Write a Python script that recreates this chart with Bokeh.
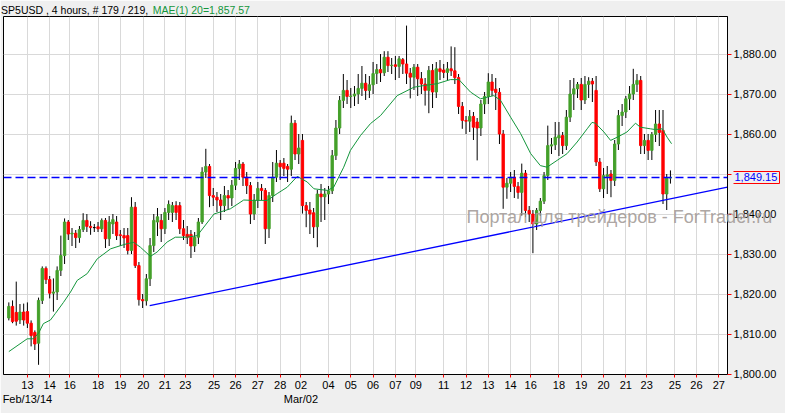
from bokeh.plotting import figure
from bokeh.models import (FixedTicker, NumeralTickFormatter, LinearAxis, Span, Range1d,
                          ColumnDataSource)
from bokeh.embed import file_html
from bokeh.resources import INLINE

# ---------------- data ----------------
opens = [
    1814.0, 1816.9, 1815.4, 1813.5, 1815.5, 1815.6, 1812.7, 1810.4, 1807.7, 1818.4,
    1826.4, 1823.6, 1820.2, 1820.5, 1825.9, 1829.6, 1838.0, 1835.0, 1835.2, 1834.1,
    1836.1, 1838.4, 1836.9, 1836.6, 1836.8, 1836.3, 1838.4, 1833.8, 1837.5, 1838.0,
    1834.8, 1834.6, 1834.6, 1830.9, 1841.7, 1827.1, 1818.6, 1818.3, 1823.8, 1832.1,
    1838.0, 1838.4, 1836.3, 1840.4, 1840.4, 1842.1, 1842.1, 1836.3, 1834.9, 1834.9,
    1832.0, 1834.2, 1838.0, 1850.5, 1851.9, 1844.6, 1844.2, 1843.5, 1842.1, 1844.6,
    1844.0, 1847.2, 1851.4, 1852.5, 1849.2, 1847.1, 1840.0, 1843.5, 1846.4, 1845.9,
    1836.3, 1844.6, 1849.2, 1852.7, 1852.7, 1851.9, 1851.2, 1862.7, 1855.0, 1858.4,
    1842.1, 1841.0, 1840.3, 1836.8, 1845.0, 1844.3, 1845.0, 1845.8, 1854.6, 1861.5,
    1868.4, 1870.9, 1869.4, 1869.5, 1870.0, 1871.4, 1872.7, 1870.9, 1872.3, 1875.1,
    1876.1, 1875.3, 1879.2, 1877.1, 1877.3, 1876.9, 1878.6, 1877.5, 1875.2, 1874.2,
    1876.7, 1873.8, 1872.5, 1870.9, 1875.9, 1870.5, 1876.3, 1876.0, 1875.4, 1876.3,
    1875.8, 1874.1, 1866.9, 1863.4, 1863.2, 1864.4, 1863.0, 1861.5, 1867.5, 1869.4,
    1873.0, 1871.2, 1870.4, 1860.0, 1846.7, 1847.7, 1849.2, 1846.9, 1845.4, 1850.2,
    1840.9, 1840.0, 1837.5, 1840.9, 1843.2, 1849.6, 1857.0, 1857.3, 1859.0, 1859.6,
    1857.1, 1864.2, 1870.0, 1871.3, 1872.4, 1868.5, 1872.4, 1873.2, 1870.9, 1853.0,
    1846.3, 1849.4, 1850.0, 1848.4, 1857.5, 1864.6, 1865.5, 1868.8, 1870.0, 1872.4,
    1873.4, 1857.1, 1858.4, 1855.9, 1859.9, 1862.5, 1860.9, 1845.0, 1849.0,
]
highs = [
    1817.9, 1818.4, 1823.1, 1817.5, 1817.6, 1817.9, 1813.4, 1810.9, 1819.1, 1826.9,
    1826.9, 1824.5, 1823.9, 1826.9, 1834.6, 1838.9, 1838.5, 1836.5, 1836.0, 1837.0,
    1840.2, 1840.0, 1838.2, 1837.5, 1838.0, 1838.9, 1839.0, 1839.5, 1840.0, 1839.5,
    1836.0, 1836.5, 1836.5, 1844.2, 1843.0, 1828.0, 1820.0, 1825.0, 1834.0, 1840.0,
    1841.5, 1840.0, 1841.5, 1843.4, 1843.0, 1843.2, 1843.0, 1838.5, 1837.0, 1836.0,
    1835.5, 1839.0, 1851.7, 1856.3, 1852.5, 1846.5, 1845.5, 1845.0, 1847.0, 1846.0,
    1848.5, 1853.0, 1853.5, 1853.0, 1850.5, 1848.0, 1845.0, 1848.0, 1847.5, 1846.5,
    1845.5, 1853.0, 1856.0, 1853.5, 1854.0, 1852.5, 1864.6, 1863.5, 1860.0, 1860.0,
    1843.0, 1843.0, 1841.5, 1846.0, 1847.5, 1846.5, 1847.0, 1856.0, 1863.5, 1869.5,
    1875.0, 1873.5, 1871.5, 1872.0, 1875.0, 1877.0, 1875.0, 1874.5, 1878.0, 1877.5,
    1880.0, 1880.7, 1880.7, 1879.0, 1879.5, 1879.5, 1879.0, 1887.1, 1876.5, 1877.5,
    1877.5, 1875.5, 1874.0, 1877.0, 1877.5, 1878.0, 1878.5, 1877.5, 1878.0, 1881.9,
    1881.7, 1875.0, 1868.0, 1864.5, 1866.0, 1865.5, 1864.0, 1868.5, 1870.5, 1875.2,
    1875.0, 1874.0, 1871.5, 1861.0, 1849.0, 1850.5, 1851.0, 1848.0, 1852.6, 1851.0,
    1842.0, 1841.0, 1841.5, 1844.0, 1850.5, 1862.1, 1859.0, 1863.0, 1863.0, 1860.5,
    1866.0, 1873.5, 1874.0, 1873.0, 1874.0, 1874.5, 1874.2, 1874.0, 1874.5, 1854.0,
    1851.5, 1852.0, 1851.0, 1858.5, 1866.0, 1867.5, 1869.5, 1872.0, 1876.3, 1875.0,
    1874.5, 1860.0, 1860.0, 1860.5, 1866.0, 1866.0, 1866.0, 1850.0, 1850.9,
]
lows = [
    1813.4, 1812.7, 1812.1, 1812.5, 1812.1, 1811.5, 1806.9, 1806.0, 1802.3, 1817.5,
    1822.5, 1818.9, 1815.6, 1818.5, 1824.5, 1827.5, 1833.5, 1832.0, 1831.5, 1832.8,
    1835.5, 1835.5, 1834.8, 1835.5, 1835.5, 1835.5, 1831.5, 1832.0, 1835.0, 1833.5,
    1832.0, 1831.5, 1829.9, 1830.0, 1826.5, 1817.1, 1816.5, 1817.1, 1822.0, 1830.5,
    1834.5, 1833.0, 1835.0, 1838.5, 1838.0, 1838.5, 1835.0, 1833.5, 1832.5, 1829.0,
    1830.5, 1832.5, 1837.5, 1849.0, 1841.7, 1842.0, 1840.5, 1838.5, 1840.5, 1841.0,
    1842.0, 1846.0, 1848.5, 1847.0, 1845.0, 1837.5, 1838.5, 1841.5, 1843.5, 1832.5,
    1834.0, 1843.0, 1848.0, 1848.5, 1849.5, 1848.0, 1849.5, 1853.5, 1852.5, 1840.1,
    1836.7, 1835.0, 1834.0, 1831.7, 1838.0, 1838.5, 1842.5, 1845.0, 1853.5, 1860.0,
    1866.5, 1867.5, 1866.5, 1867.0, 1867.5, 1869.5, 1868.5, 1869.0, 1870.0, 1872.5,
    1873.0, 1874.5, 1875.5, 1875.0, 1873.5, 1874.0, 1875.0, 1872.5, 1868.9, 1871.0,
    1869.5, 1870.0, 1867.1, 1865.2, 1866.5, 1869.0, 1873.5, 1874.0, 1873.5, 1874.5,
    1872.5, 1865.0, 1861.3, 1860.0, 1860.5, 1858.5, 1853.4, 1859.5, 1865.0, 1867.5,
    1869.5, 1866.0, 1857.5, 1841.3, 1843.8, 1845.5, 1844.0, 1843.8, 1839.6, 1839.2,
    1838.0, 1830.2, 1836.0, 1839.5, 1842.5, 1848.5, 1855.0, 1856.0, 1854.5, 1855.0,
    1856.0, 1863.0, 1866.0, 1869.0, 1866.0, 1867.5, 1869.0, 1868.0, 1852.0, 1845.5,
    1844.0, 1845.0, 1844.2, 1847.0, 1856.0, 1862.0, 1864.0, 1866.0, 1868.5, 1870.5,
    1855.0, 1855.0, 1853.5, 1853.5, 1858.0, 1857.0, 1842.5, 1841.0, 1847.6,
]
closes = [
    1816.9, 1813.1, 1813.2, 1815.5, 1813.5, 1812.7, 1809.6, 1807.5, 1818.4, 1826.4,
    1823.6, 1820.2, 1820.5, 1825.9, 1829.6, 1838.0, 1835.0, 1835.2, 1834.1, 1836.1,
    1838.4, 1836.9, 1836.6, 1836.6, 1836.3, 1838.4, 1833.8, 1838.0, 1838.6, 1834.6,
    1834.6, 1834.0, 1830.9, 1841.7, 1827.1, 1818.6, 1818.3, 1823.8, 1832.1, 1838.4,
    1839.3, 1836.3, 1840.4, 1842.4, 1842.1, 1840.4, 1836.3, 1834.6, 1834.2, 1832.0,
    1834.2, 1838.0, 1850.5, 1851.9, 1844.6, 1844.2, 1843.5, 1842.1, 1844.6, 1844.0,
    1847.2, 1851.4, 1852.5, 1849.2, 1847.1, 1840.0, 1843.5, 1846.4, 1845.9, 1836.3,
    1844.6, 1849.2, 1852.7, 1851.8, 1851.4, 1851.2, 1862.7, 1855.0, 1856.5, 1842.1,
    1840.9, 1840.0, 1836.8, 1845.0, 1844.3, 1845.0, 1845.8, 1854.6, 1861.5, 1868.4,
    1870.9, 1869.4, 1869.5, 1870.0, 1871.4, 1872.7, 1870.9, 1872.3, 1875.1, 1876.1,
    1875.3, 1879.2, 1877.1, 1877.2, 1876.9, 1878.8, 1877.5, 1875.2, 1874.2, 1876.7,
    1873.8, 1872.5, 1870.9, 1875.9, 1870.5, 1876.3, 1875.6, 1875.4, 1876.3, 1875.8,
    1874.1, 1866.9, 1863.4, 1863.2, 1864.4, 1861.7, 1861.5, 1867.5, 1869.4, 1873.0,
    1870.9, 1870.4, 1860.0, 1846.7, 1847.7, 1849.2, 1846.9, 1845.4, 1850.2, 1840.9,
    1840.0, 1837.5, 1840.9, 1843.2, 1849.6, 1857.1, 1857.3, 1859.2, 1859.6, 1857.1,
    1864.2, 1870.0, 1871.3, 1872.4, 1868.5, 1872.4, 1873.2, 1872.5, 1853.0, 1846.3,
    1849.6, 1849.8, 1848.4, 1857.5, 1864.6, 1865.5, 1868.8, 1870.0, 1872.4, 1873.4,
    1857.1, 1858.4, 1855.9, 1859.9, 1862.5, 1860.4, 1845.0, 1849.0, 1849.15,
]

# moving average (MA 20): bar position and value
ma_bar = [0, 4.95, 6.6, 8.0, 9.3, 11.2, 12.5, 14.7, 16.6, 18.4, 21.1, 23.8, 27.4, 30.1,
          31.9, 33.6, 35.4, 38.1, 39.9, 42.6, 44.8, 48.0, 50.7, 55.2, 59.6, 63.2, 65.5,
          69.5, 72.2, 74.9, 77.6, 80.3, 82.1, 85.7, 87.4, 90.1, 91.9, 94.6, 97.3, 100.0,
          104.5, 109.0, 111.6, 115.3, 118.8, 121.1, 124.2, 126.9, 130.5, 132.3, 135.0,
          137.7, 140.4, 143.0, 144.8, 147.5, 150.2, 152.9, 155.6, 156.9, 157.8, 160.1,
          161.9, 163.7, 166.3, 168.6, 169.9, 172.6, 174.0, 175.8, 177.1, 178.3]
ma_val = [1805.6, 1808.8, 1808.8, 1810.2, 1812.6, 1813.5, 1815.1, 1817.9, 1820.5, 1823.4,
          1825.1, 1828.8, 1831.3, 1832.1, 1832.6, 1832.9, 1831.7, 1829.4, 1830.5, 1833.0,
          1834.2, 1834.2, 1834.6, 1840.0, 1841.3, 1843.5, 1843.4, 1843.4, 1845.1, 1846.7,
          1849.4, 1848.0, 1846.3, 1845.9, 1846.7, 1851.7, 1855.9, 1859.6, 1862.6, 1864.6,
          1869.6, 1871.7, 1872.1, 1872.6, 1873.6, 1873.6, 1870.5, 1868.8, 1869.6, 1868.4,
          1864.2, 1860.1, 1855.1, 1852.1, 1851.7, 1853.4, 1855.1, 1858.0, 1861.3, 1862.9,
          1862.7, 1860.5, 1858.4, 1859.2, 1860.5, 1862.7, 1861.7, 1861.3, 1861.1, 1861.3,
          1859.2, 1857.57]

# support trend line (two anchor points) and last bid price
trend_bar = [37.9, 193.35]
trend_val = [1817.1, 1846.7]
last_price = 1849.15

# x axis: day ticks (bar position) and labels
day_ticks = [5, 11, 16.4, 24, 30, 36.2, 42, 47.5, 55.2, 61, 67, 73, 78.6, 86, 92, 98, 104,
             109.5, 117, 123, 129, 135, 140.4, 148, 154, 160, 166, 171.6, 179.2, 185, 191]
day_labels = ["13", "14", "16", "18", "19", "20", "21", "23", "25", "26", "27", "28", "02",
              "04", "05", "06", "07", "09", "11", "12", "13", "14", "16", "18", "19", "20",
              "21", "23", "25", "26", "27"]
month_ticks = [5, 78.6]
month_labels = ["Feb/13/14", "Mar/02"]
price_ticks = [1800, 1810, 1820, 1830, 1840, 1850, 1860, 1870, 1880]

title_main = "SP5USD , 4 hours, # 179 / 219,"
title_ma = "MAE(1) 20=1,857.57"
watermark = "Портал для трейдеров - ForTrader.ru"

# ---------------- layout constants ----------------
X0, X1 = -1.43, 193.35          # visible bar range
Y0, Y1 = 1799.875, 1889.375     # visible price range
title_pos = [17.7, 51.8]        # centres of the two title pieces (bar units)
watermark_mid = 1839.3          # vertical centre of the watermark (price units)
tag_box = (1847.55, 1850.7)     # price-tag frame, lower / upper edge (price units)

GREEN = "#44a02a"
RED = "#ff0000"
MA_GREEN = "#14963c"
FONT = "Liberation Sans"
BG = "#efefef"

bars = list(range(len(closes)))
colors = [GREEN if c > o else (RED if c < o else "black") for o, c in zip(opens, closes)]
src = ColumnDataSource(dict(
    x=bars, high=highs, low=lows,
    top=[max(o, c) for o, c in zip(opens, closes)],
    bottom=[min(o, c) for o, c in zip(opens, closes)],
    color=colors,
))

p = figure(width=785, height=413, x_range=Range1d(X0, X1), y_range=Range1d(Y0, Y1),
           y_axis_location="right", output_backend="svg", toolbar_location=None,
           min_border_left=3, min_border_top=16, min_border_right=58, min_border_bottom=39,
           background_fill_color="white", border_fill_color=BG,
           outline_line_color="black", outline_line_width=1)

# grid
p.xgrid.ticker = FixedTicker(ticks=day_ticks)
p.ygrid.ticker = FixedTicker(ticks=price_ticks)
for g in (p.xgrid, p.ygrid):
    g.grid_line_color = "#d9d9d9"
    g.grid_line_width = 1

# candles
p.segment(x0="x", y0="high", x1="x", y1="low", source=src, line_color="black", line_width=1)
p.vbar(x="x", top="top", bottom="bottom", width=0.62, source=src,
       fill_color="color", line_color="color", line_width=1)

# moving average, trend line, price line
p.line(ma_bar, ma_val, line_color=MA_GREEN, line_width=1)
p.line(trend_bar, trend_val, line_color="#0000ff", line_width=1.3)
p.add_layout(Span(location=last_price, dimension="width", line_color="#0000ff",
                  line_dash="8 4", line_width=1.5))


def text_axis(**kw):
    """An axis used only to carry text (no line, no ticks)."""
    base = dict(axis_line_color=None, major_tick_line_color=None, minor_tick_line_color=None,
                major_tick_out=0, major_tick_in=0, major_label_text_font=FONT,
                major_label_text_font_size="11px", major_label_text_color="black")
    base.update(kw)
    return LinearAxis(**base)


# y axis (right)
ya = p.yaxis[0]
ya.ticker = FixedTicker(ticks=price_ticks)
ya.formatter = NumeralTickFormatter(format="0,0.00")
ya.major_label_overrides = {1850: ""}          # hidden behind the price tag
ya.major_label_text_font = FONT
ya.major_label_text_font_size = "11px"
ya.major_label_text_color = "black"
ya.major_tick_line_color = RED
ya.major_tick_out = 4
ya.major_tick_in = 0
ya.minor_tick_line_color = None
ya.axis_line_color = "black"
ya.major_label_standoff = 2

# x axis (days)
xa = p.xaxis[0]
xa.ticker = FixedTicker(ticks=day_ticks)
xa.major_label_overrides = dict(zip(day_ticks, day_labels))
xa.major_label_text_font = FONT
xa.major_label_text_font_size = "11px"
xa.major_label_text_color = "black"
xa.major_tick_line_color = RED
xa.major_tick_out = 3
xa.major_tick_in = 0
xa.minor_tick_line_color = None
xa.axis_line_color = "black"
xa.major_label_standoff = 3

# second row: month labels
p.add_layout(text_axis(ticker=FixedTicker(ticks=month_ticks),
                       major_label_overrides=dict(zip(month_ticks, month_labels)),
                       major_label_standoff=1), "below")

# red frame of the last-price tag (ticks pointing inwards + bounded axis line)
p.add_layout(LinearAxis(ticker=FixedTicker(ticks=list(tag_box)), bounds=tag_box,
                        major_label_overrides={tag_box[0]: "", tag_box[1]: ""},
                        axis_line_color=RED, major_tick_line_color=RED,
                        minor_tick_line_color=None, major_tick_out=0, major_tick_in=46,
                        major_label_standoff=0, major_label_text_font_size="11px"), "right")
# last-price tag text (pulled back over the price axis)
p.add_layout(text_axis(ticker=FixedTicker(ticks=[last_price]),
                       major_label_overrides={last_price: "1,849.15"},
                       major_label_text_color="#0000ff", major_label_standoff=-45), "right")
# watermark (pulled back over the chart)
p.add_layout(text_axis(ticker=FixedTicker(ticks=[watermark_mid]),
                       major_label_overrides={watermark_mid: watermark},
                       major_label_text_font_size="18px", major_label_text_color="#a39b97",
                       major_label_text_alpha=0.9, major_label_standoff=-314), "right")

# title (two colours) above the frame
p.add_layout(text_axis(ticker=FixedTicker(ticks=[title_pos[0]]),
                       major_label_overrides={title_pos[0]: title_main},
                       major_label_text_font_size="10.5px", major_label_standoff=1), "above")
p.add_layout(text_axis(ticker=FixedTicker(ticks=[title_pos[1]]),
                       major_label_overrides={title_pos[1]: title_ma},
                       major_label_text_font_size="10.5px", major_label_text_color=MA_GREEN,
                       major_label_standoff=-15), "above")

open("out.html", "w").write(file_html(p, INLINE))
